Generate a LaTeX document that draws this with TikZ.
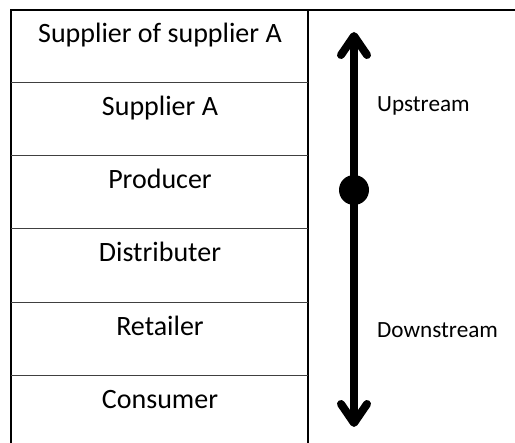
\documentclass[tikz,border=0pt]{standalone}
\usepackage{fontspec}
\setmainfont{Carlito}
\usepackage{tikz}
\usetikzlibrary{arrows.meta}

\tikzset{
    rowtext/.style = {anchor = base, inner sep = 0pt, font = \fontsize{28}{32}\selectfont},
    sidetext/.style = {anchor = base west, inner sep = 0pt, font = \fontsize{23.2}{27}\selectfont},
    rowline/.style = {line width = 1pt, black!75}
}

\begin{document}
\begin{tikzpicture}[x = 1pt, y = -1pt]
    \useasboundingbox (0,0) rectangle (515,443);
    % frame of the table
    \draw [line width = 2.5pt] (11,443) -- (11,10) -- (515,10);
    \draw [line width = 1.5pt] (308,10) -- (308,443);
    \draw [rowline] (11,83) -- (308,83);
    \draw [rowline] (11,156) -- (308,156);
    \draw [rowline] (11,229) -- (308,229);
    \draw [rowline] (11,303) -- (308,303);
    \draw [rowline] (11,376) -- (308,376);
    % names of the stages
    \node (sos) at (160,43) [rowtext] {Supplier of supplier A};
    \node (sup) at (160,116) [rowtext] {Supplier A};
    \node (prod) at (160,189) [rowtext] {Producer};
    \node (dist) at (160,262) [rowtext] {Distributer};
    \node (ret) at (160,336) [rowtext] {Retailer};
    \node (cons) at (160,409) [rowtext] {Consumer};
    % direction of the flow
    \coordinate (up) at (354,32);
    \coordinate (down) at (354,427);
    \draw [line width = 8pt, <->, >={Straight Barb[length = 19pt, width = 26pt, line cap = round, line join = round]}] (up) -- (down);
    \node (dot) at (354,190) [circle, fill = black, minimum size = 30pt, inner sep = 0pt] {};
    \node (upstr) at (377,112) [sidetext] {Upstream};
    \node (downstr) at (377,338) [sidetext] {Downstream};
\end{tikzpicture}
\end{document}
